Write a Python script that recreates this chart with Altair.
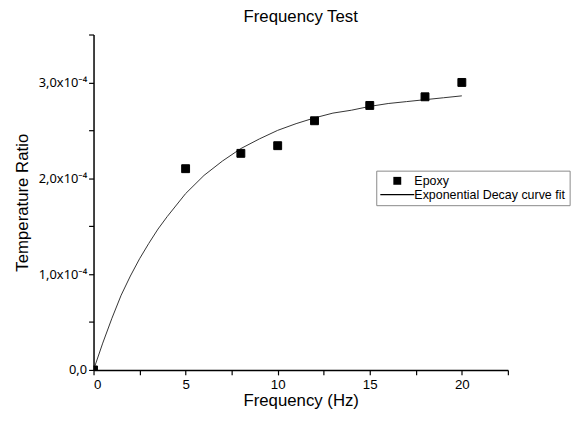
import altair as alt
import pandas as pd

# Measured data points (Epoxy)
freq = [0, 5, 8, 10, 12, 15, 18, 20]
ratio = [0.0, 2.10e-4, 2.26e-4, 2.34e-4, 2.60e-4, 2.76e-4, 2.85e-4, 3.00e-4]

# Curve fit
fit_x = [0, 0.5, 1, 1.5, 2, 2.5, 3, 3.5, 4, 5, 6, 7, 8, 9, 10, 11, 12, 13, 14, 15, 16, 17, 18, 19, 20]
fit_y = [0.0, 0.28e-4, 0.54e-4, 0.78e-4, 0.98e-4, 1.16e-4, 1.32e-4, 1.47e-4, 1.60e-4, 1.84e-4,
         2.03e-4, 2.18e-4, 2.31e-4, 2.41e-4, 2.50e-4, 2.57e-4, 2.63e-4, 2.68e-4, 2.71e-4, 2.75e-4,
         2.78e-4, 2.80e-4, 2.82e-4, 2.84e-4, 2.86e-4]

series_names = ["Epoxy", "Exponential Decay curve fit"]
x_ticks = [0, 2.5, 5, 7.5, 10, 12.5, 15, 17.5, 20, 22.5]
y_ticks = [0, 0.5e-4, 1.0e-4, 1.5e-4, 2.0e-4, 2.5e-4, 3.0e-4, 3.5e-4]

pts = pd.DataFrame({"f": freq, "r": ratio, "series": series_names[0]})
fit = pd.DataFrame({"f": fit_x, "r": fit_y})

FONT = "Liberation Sans"

x_enc = alt.X("f:Q", scale=alt.Scale(domain=[0, 22.5], nice=False, zero=False),
              axis=alt.Axis(title="Frequency (Hz)", values=x_ticks,
                            labelExpr="datum.value % 5 == 0 ? datum.label : ''",
                            grid=False, domainColor="black", domainWidth=1.5,
                            tickColor="black", tickWidth=1.2, tickSize=5,
                            labelFontSize=13.5, labelColor="black", labelFont=FONT,
                            labelPadding=3,
                            titleFontSize=17, titleFont=FONT, titleFontWeight="normal",
                            titleColor="black", titlePadding=2))
y_enc = alt.Y("r:Q", scale=alt.Scale(domain=[0, 3.5e-4], nice=False),
              axis=alt.Axis(title="Temperature Ratio", values=y_ticks,
                            labelExpr="round(datum.value*2e4) % 2 == 1 ? '' : (datum.value < 1e-12 ? '0,0' : replace(format(datum.value*1e4, '.1f'), '.', ',') + 'x10⁻⁴')",
                            grid=False, domainColor="black", domainWidth=1.5,
                            tickColor="black", tickWidth=1.2, tickSize=5,
                            labelFontSize=13, labelColor="black", labelFont="Noto Sans",
                            labelPadding=2,
                            titleFontSize=17, titleFont=FONT, titleFontWeight="normal",
                            titleColor="black", titlePadding=7))

line = alt.Chart(fit).mark_line(color="#333333", strokeWidth=1, clip=True).encode(x=x_enc, y=y_enc)

points = alt.Chart(pts).mark_point(filled=False, fill="black", stroke="black", strokeWidth=1,
                                   size=64, opacity=1, fillOpacity=1, clip=True).encode(
    x=x_enc, y=y_enc,
    shape=alt.Shape("series:N",
                    scale=alt.Scale(domain=series_names,
                                    range=["square", "M-4.3,-0.13H4.3V0.13H-4.3Z"]),
                    legend=alt.Legend(title=None, orient="none", legendX=286.6, legendY=138,
                                      strokeColor="#888888", padding=4, fillColor="white",
                                      labelFontSize=12.6, labelFont=FONT, labelColor="black",
                                      labelLimit=400, rowPadding=1,
                                      symbolSize=64, symbolFillColor="black",
                                      symbolStrokeColor="black", symbolStrokeWidth=1,
                                      symbolOffset=11, labelOffset=11))
)

chart = alt.layer(line, points).properties(
    width=420, height=340,
    title=alt.TitleParams("Frequency Test", fontSize=17, font=FONT, fontWeight="normal",
                          color="black", anchor="middle", offset=8),
    autosize=alt.AutoSizeParams(type="none"),
    padding={"left": 86.7, "top": 24, "right": 65, "bottom": 58},
).configure_view(stroke=None)

chart.save("out.html", embed_options={"renderer": "svg", "actions": False})
